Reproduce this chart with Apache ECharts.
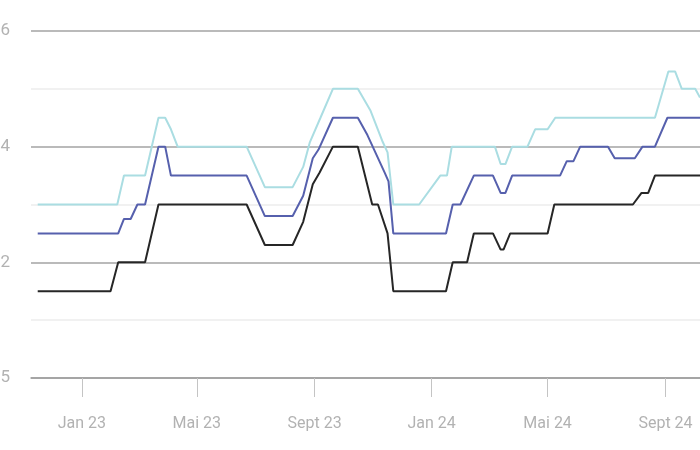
<!DOCTYPE html>
<html>
<head>
<meta charset="utf-8">
<script src="https://cdn.jsdelivr.net/npm/echarts@6/dist/echarts.min.js"></script>
<style>html,body{margin:0;padding:0;background:#fff;}#c{width:700px;height:450px;}</style>
</head>
<body>
<div id="c"></div>
<script>
// x-axis ticks
var xTickDates = ['2023-01-01','2023-05-01','2023-09-01','2024-01-01','2024-05-01','2024-09-01'];
var xTickLabels = ['Jan 23','Mai 23','Sept 23','Jan 24','Mai 24','Sept 24'];
// y-axis labelled ticks (as printed)
var yTickValues = [0, 2, 4, 6];
var yTickTexts = ['5', '2', '4', '6'];

// lower series (black)
var lowDates = ['2022-11-16','2023-01-31','2023-02-08','2023-03-08','2023-03-22','2023-06-22','2023-07-11','2023-08-09','2023-08-20','2023-08-30','2023-09-06','2023-09-20','2023-10-16','2023-10-31','2023-11-06','2023-11-16','2023-11-22','2024-01-16','2024-01-23','2024-02-07','2024-02-14','2024-03-05','2024-03-13','2024-03-16','2024-03-23','2024-05-01','2024-05-08','2024-07-29','2024-08-07','2024-08-14','2024-08-21','2024-10-07'];
var lowValues = [1.5,1.5,2.0,2.0,3.0,3.0,2.3,2.3,2.7,3.35,3.55,4.0,4.0,3.0,3.0,2.5,1.5,1.5,2.0,2.0,2.5,2.5,2.22,2.22,2.5,2.5,3.0,3.0,3.2,3.2,3.5,3.5];

// middle series (blue)
var midDates = ['2022-11-16','2023-02-08','2023-02-14','2023-02-21','2023-02-28','2023-03-08','2023-03-22','2023-03-29','2023-04-04','2023-06-22','2023-07-11','2023-08-09','2023-08-20','2023-08-30','2023-09-05','2023-09-20','2023-10-16','2023-10-26','2023-11-13','2023-11-17','2023-11-22','2024-01-16','2024-01-23','2024-01-31','2024-02-14','2024-03-05','2024-03-13','2024-03-18','2024-03-25','2024-05-14','2024-05-21','2024-05-28','2024-06-04','2024-07-03','2024-07-10','2024-07-31','2024-08-08','2024-08-21','2024-09-03','2024-10-07'];
var midValues = [2.5,2.5,2.75,2.75,3.0,3.0,4.0,4.0,3.5,3.5,2.8,2.8,3.15,3.8,3.95,4.5,4.5,4.2,3.55,3.4,2.5,2.5,3.0,3.0,3.5,3.5,3.2,3.2,3.5,3.5,3.75,3.75,4.0,4.0,3.8,3.8,4.0,4.0,4.5,4.5];

// upper series (light cyan)
var highDates = ['2022-11-16','2023-02-07','2023-02-14','2023-03-08','2023-03-22','2023-03-29','2023-04-04','2023-04-11','2023-06-22','2023-07-11','2023-08-09','2023-08-20','2023-08-27','2023-09-07','2023-09-20','2023-10-16','2023-10-29','2023-11-11','2023-11-16','2023-11-22','2023-12-19','2024-01-10','2024-01-17','2024-01-22','2024-03-07','2024-03-13','2024-03-18','2024-03-25','2024-04-10','2024-04-18','2024-05-01','2024-05-09','2024-08-21','2024-09-04','2024-09-11','2024-09-18','2024-10-02','2024-10-07'];
var highValues = [3.0,3.0,3.5,3.5,4.5,4.5,4.3,4.0,4.0,3.3,3.3,3.65,4.08,4.5,5.0,5.0,4.63,4.08,3.9,3.0,3.0,3.5,3.5,4.0,4.0,3.7,3.7,4.0,4.0,4.3,4.3,4.5,4.5,5.3,5.3,5.0,5.0,4.85];

function ts(s) { var p = s.split('-'); return Date.UTC(+p[0], +p[1] - 1, +p[2]); }
function pairs(d, v) { return d.map(function (x, i) { return [ts(x), v[i]]; }); }
var xTickTs = xTickDates.map(ts);
var xMin = ts('2022-11-09'), xMax = ts('2024-10-07');

var labelFont = { color: '#b2b2b2', fontFamily: "Roboto, sans-serif", fontSize: 16 };

var chart = echarts.init(document.getElementById('c'), null, { renderer: 'canvas' });
chart.setOption({
  animation: false,
  backgroundColor: '#ffffff',
  grid: { left: 31, right: 0, top: 31, bottom: 72, containLabel: false, outerBoundsMode: 'none' },
  xAxis: {
    type: 'value',
    min: xMin,
    max: xMax,
    axisLine: { show: true, lineStyle: { color: '#9e9e9e', width: 1.5 } },
    axisTick: { show: true, customValues: xTickTs, length: 19, lineStyle: { color: '#c4c4c4', width: 1 } },
    axisLabel: Object.assign({
      customValues: xTickTs,
      margin: 38,
      formatter: function (val) {
        for (var i = 0; i < xTickTs.length; i++) { if (Math.abs(xTickTs[i] - val) < 43200000) return xTickLabels[i]; }
        return '';
      }
    }, labelFont),
    splitLine: { show: false }
  },
  yAxis: {
    type: 'value',
    min: 0, max: 6, interval: 1,
    axisLine: { show: false },
    axisTick: { show: false },
    axisLabel: Object.assign({
      margin: 21,
      formatter: function (val) {
        var i = yTickValues.indexOf(val);
        return i >= 0 ? yTickTexts[i] : '';
      }
    }, labelFont, { fontSize: 17 }),
    splitLine: { show: true, lineStyle: { color: ['#a3a3a3', '#ececec'], width: 1.5 } }
  },
  series: [
    { type: 'line', data: pairs(highDates, highValues), symbol: 'none', lineStyle: { color: '#aadde2', width: 2 }, z: 3 },
    { type: 'line', data: pairs(midDates, midValues), symbol: 'none', lineStyle: { color: '#5660ad', width: 2 }, z: 4 },
    { type: 'line', data: pairs(lowDates, lowValues), symbol: 'none', lineStyle: { color: '#262626', width: 2 }, z: 5 }
  ]
});
</script>
</body>
</html>
